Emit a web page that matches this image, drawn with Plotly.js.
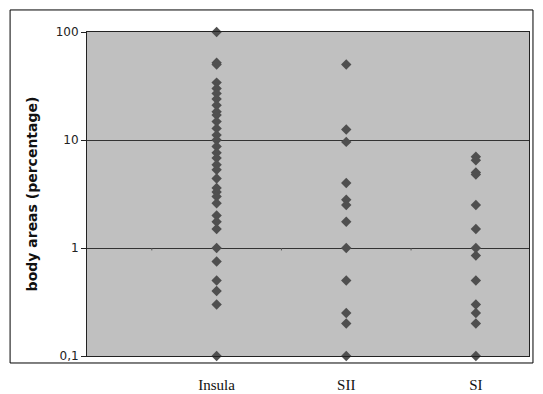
<!DOCTYPE html>
<html>
<head>
<meta charset="utf-8">
<script src="https://cdn.plot.ly/plotly-3.0.1.min.js"></script>
<style>html,body{margin:0;padding:0;background:#fff;}#chart{width:543px;height:394px;}</style>
</head>
<body>
<div id="chart"></div>
<script>
const categories = ["Insula", "SII", "SI"];
const categoryPositions = [1, 2, 3];
const insula = [100, 52, 50, 34, 30, 27, 24, 21, 18.3, 17, 14.8, 12.8, 11.1, 10, 8.7, 7.6, 6.8, 5.9, 5.3, 4.4, 3.6, 3.3, 3.0, 2.6, 2.0, 1.75, 1.5, 1, 0.75, 0.5, 0.4, 0.3, 0.1];
const sii = [50, 12.5, 9.6, 4, 2.8, 2.5, 1.75, 1, 0.5, 0.25, 0.2, 0.1];
const si = [7, 6.5, 5, 4.8, 2.5, 1.5, 1, 0.85, 0.5, 0.3, 0.25, 0.2, 0.1];
const yTickVals = [0.1, 1, 10, 100];
const yTickText = ["0,1", "1", "10", "100"];
const boundaryTicks = [0.5, 1.5, 2.5];

const series = [insula, sii, si];
const traces = series.map((vals, i) => ({
  type: "scatter",
  mode: "markers",
  x: vals.map(() => categoryPositions[i]),
  y: vals,
  cliponaxis: false,
  marker: {symbol: "diamond", size: 8, color: "#4f4f4f"},
  showlegend: false,
  hoverinfo: "y"
}));

const shapes = [
  {type: "rect", xref: "paper", yref: "paper", x0: -0.174, x1: 1.009, y0: -0.0216, y1: 1.068,
   line: {color: "#000", width: 1}, fillcolor: "rgba(0,0,0,0)", layer: "below"}
].concat(boundaryTicks.map(b => ({
  type: "line", xref: "x", yref: "y", x0: b, x1: b, y0: 1, y1: 0.95,
  line: {color: "#555", width: 1}
})));

const layout = {
  width: 543, height: 394,
  margin: {l: 87, r: 14, t: 32, b: 38},
  paper_bgcolor: "#ffffff",
  plot_bgcolor: "#c0c0c0",
  showlegend: false,
  xaxis: {
    range: [0, 3.41],
    tickvals: categoryPositions,
    ticktext: categories,
    ticks: "outside", ticklen: 15, tickcolor: "rgba(0,0,0,0)",
    tickfont: {family: "Liberation Serif, Times New Roman, serif", size: 15, color: "#111"},
    showgrid: false, zeroline: false,
    showline: true, linecolor: "#222", linewidth: 1, mirror: true
  },
  yaxis: {
    type: "log",
    range: [-1, 2],
    tickvals: yTickVals,
    ticktext: yTickText,
    ticks: "outside", ticklen: 5, tickcolor: "#222",
    tickfont: {family: "DejaVu Sans, Verdana, sans-serif", size: 12, color: "#222"},
    showgrid: true, gridcolor: "#333", gridwidth: 1,
    zeroline: false,
    showline: true, linecolor: "#222", linewidth: 1, mirror: true,
    title: {text: "<b>body areas (percentage)</b>", standoff: 14,
            font: {family: "DejaVu Sans, Verdana, sans-serif", size: 14, color: "#111"}}
  },
  shapes: shapes
};

Plotly.newPlot("chart", traces, layout, {staticPlot: true, displayModeBar: false});
</script>
</body>
</html>
